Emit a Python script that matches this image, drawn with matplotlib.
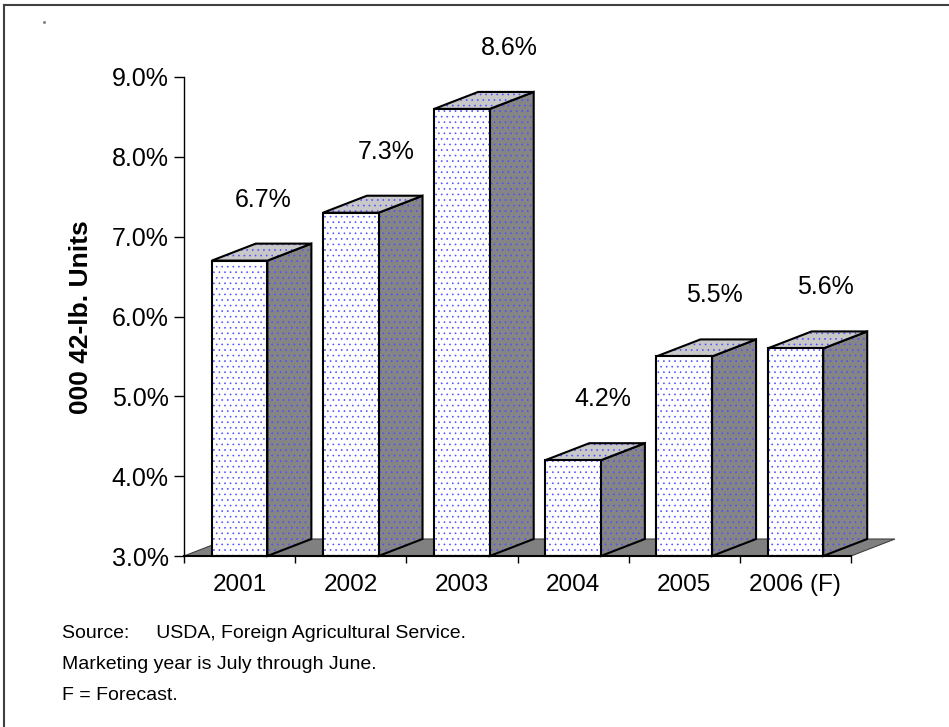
import matplotlib
matplotlib.use('Agg')
import matplotlib.pyplot as plt
from matplotlib.patches import Polygon
from matplotlib.lines import Line2D

# ---- data ----
years = ['2001', '2002', '2003', '2004', '2005', '2006 (F)']
values = [6.7, 7.3, 8.6, 4.2, 5.5, 5.6]
value_labels = ['6.7%', '7.3%', '8.6%', '4.2%', '5.5%', '5.6%']
y_ticks = [3.0, 4.0, 5.0, 6.0, 7.0, 8.0, 9.0]
y_tick_labels = ['3.0%', '4.0%', '5.0%', '6.0%', '7.0%', '8.0%', '9.0%']
y_label = '000 42-lb. Units'
notes = ['Source:     USDA, Foreign Agricultural Service.',
         'Marketing year is July through June.',
         'F = Forecast.']

# ---- style / layout ----
plt.rcParams['font.family'] = ['Liberation Sans', 'DejaVu Sans']
plt.rcParams['hatch.linewidth'] = 0.45
W, H = 949, 727
FRONT = '#FFFFFF'
TOP = '#C8C8C8'
SIDE = '#858585'
FLOOR = '#808080'
DOT = '#4D4DFF'
HATCH = '...'
label_dx_px = [24, 35, 47, 30, 30, 30]   # label offset right of bar front centre (px)
label_dy_px = 61                          # label centre above bar front top (px)

fig = plt.figure(figsize=(W / 100, H / 100), dpi=100)
ax = fig.add_axes([184 / W, 1 - 556 / H, 667 / W, 479 / H])
n = len(years)
ax.set_xlim(0, n)
ax.set_ylim(y_ticks[0], y_ticks[-1])
px_x = 667 / n
px_y = 479 / (y_ticks[-1] - y_ticks[0])
DX = 44 / px_x
DY = 17 / px_y
base = y_ticks[0]


def face(pts, fc, z):
    ax.add_patch(Polygon(pts, closed=True, facecolor=fc, edgecolor=DOT,
                         linewidth=0, hatch=HATCH, clip_on=False, zorder=z))
    ax.add_patch(Polygon(pts, closed=True, facecolor='none', edgecolor='black',
                         linewidth=1.5, joinstyle='miter', clip_on=False, zorder=z + 0.01))


# floor
ax.add_patch(Polygon([(0, base), (n, base), (n + DX, base + DY), (DX, base + DY)],
                     closed=True, facecolor=FLOOR, edgecolor='#404040', linewidth=0.8,
                     clip_on=False, zorder=1))

for i, v in enumerate(values):
    x0, x1 = i + 0.25, i + 0.75
    z = 3 + i * 0.1
    face([(x1, base), (x1 + DX, base + DY), (x1 + DX, v + DY), (x1, v)], SIDE, z)
    face([(x0, v), (x1, v), (x1 + DX, v + DY), (x0 + DX, v + DY)], TOP, z + 0.02)
    face([(x0, base), (x1, base), (x1, v), (x0, v)], FRONT, z + 0.04)
    ax.text(i + 0.5 + label_dx_px[i] / px_x, v + label_dy_px / px_y, value_labels[i],
            ha='center', va='center', fontsize=18, color='black', zorder=10)

# axes styling
for s in ['top', 'right']:
    ax.spines[s].set_visible(False)
ax.spines['left'].set_color('black')
ax.spines['bottom'].set_color('black')
ax.spines['left'].set_linewidth(1.0)
ax.spines['bottom'].set_linewidth(1.5)
ax.spines['bottom'].set_zorder(8)

ax.set_yticks(y_ticks)
ax.set_yticklabels(y_tick_labels, fontsize=18)
ax.tick_params(axis='y', direction='out', length=7.5, width=1.0, pad=3.5)

ax.set_xticks(range(n + 1))
ax.set_xticklabels([])
ax.tick_params(axis='x', which='major', direction='out', length=5, width=1.0)
ax.set_xticks([i + 0.5 for i in range(n)], minor=True)
ax.set_xticklabels(years, minor=True, fontsize=17.5)
ax.tick_params(axis='x', which='minor', length=0, pad=13)
ax.patch.set_alpha(0)

fig.text(81 / W, 1 - 317 / H, y_label, rotation=90, ha='center', va='center',
         fontsize=19, fontweight='bold')

for k, t in enumerate(notes):
    fig.text(62 / W, 1 - (638 + 31 * k) / H, t, ha='left', va='baseline', fontsize=14)

# outer border (top and left)
fig.add_artist(Line2D([3.5 / W, 3.5 / W], [0, 1 - 5 / H], color='#404040', linewidth=1.5))
fig.add_artist(Line2D([3.5 / W, 1], [1 - 5 / H, 1 - 5 / H], color='#404040', linewidth=1.5))
fig.add_artist(Line2D([44 / W], [1 - 22 / H], marker='s', markersize=1, color='#808080',
                      linestyle='none'))

fig.savefig('out.png', dpi=100)
